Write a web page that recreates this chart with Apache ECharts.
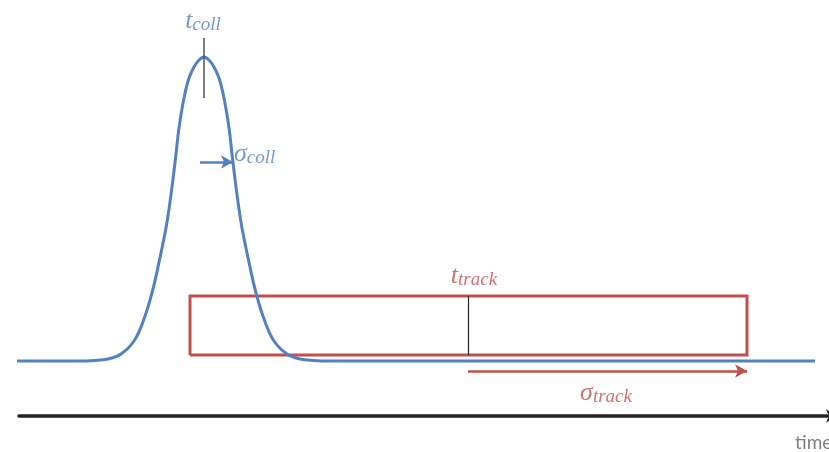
<!DOCTYPE html>
<html>
<head>
<meta charset="utf-8">
<script src="https://cdn.jsdelivr.net/npm/echarts@6/dist/echarts.min.js"></script>
<style>
  html, body { margin: 0; padding: 0; background: #fff; }
  #chart { width: 829px; height: 452px; }
</style>
</head>
<body>
<div id="chart"></div>
<script>
// collision time distribution
let curveTime  = [12, 79, 94, 108, 121, 134, 144, 153, 158, 166, 170, 173, 176, 179, 184, 189, 194, 199,
                  204, 209, 214, 219, 224, 229, 232, 235, 238, 242, 250, 255, 264, 274, 287, 300, 314, 329, 815];
let curveValue = [0, 0, 0.5, 2, 7, 20, 42, 72, 94, 133, 159, 182, 207, 233, 263, 283, 294, 301,
                  304, 301, 294, 283, 263, 233, 207, 182, 159, 133, 94, 72, 42, 20, 7, 2, 0.5, 0, 0];

// track time window
let trackTime  = [190, 190, 747, 747, 190];
let trackValue = [6, 65, 65, 6, 6];

// markers: t_coll tick, t_track tick
let tickTime = [204, 468];
let tickFrom = [263, 6];
let tickTo   = [323, 65];

// sigma arrows
let sigmaFrom  = [200, 468];
let sigmaTo    = [233, 747];
let sigmaLevel = [199, -10];

// labels
let labelMain  = ['t', 'σ', 't', 'σ'];
let labelSub   = ['coll', 'coll', 'track', 'track'];
let labelTime  = [203, 234, 474, 606];
let labelValue = [341, 208, 86, -31];

let blue = '#5580c0';
let red = '#c0504d';
let labelColor = [blue, blue, red, red];
let labelAlign = ['center', 'left', 'center', 'center'];

let myChart = echarts.init(document.getElementById('chart'));

let serif = "'Liberation Serif', 'DejaVu Serif', serif";

let option = {
    animation: false,
    grid: { left: 19, right: 0, top: 0, bottom: 36, containLabel: false, outerBoundsMode: 'none' },
    xAxis: {
        type: 'value',
        min: 19,
        max: 829,
        name: 'time',
        nameLocation: 'end',
        nameGap: -34,
        nameTextStyle: {
            color: '#7f7f7f',
            fontFamily: 'Lato',
            fontSize: 19,
            align: 'left',
            verticalAlign: 'top',
            padding: [17, 0, 0, 0]
        },
        axisLine: {
            show: true,
            onZero: false,
            symbol: ['none', 'arrow'],
            symbolSize: [10, 12],
            symbolOffset: [0, 9],
            lineStyle: { color: '#222', width: 3.5 }
        },
        axisTick: { show: false },
        axisLabel: { show: false },
        splitLine: { show: false }
    },
    yAxis: {
        type: 'value',
        min: -55,
        max: 361,
        show: false
    },
    series: [
        {
            name: 'collision',
            type: 'line',
            clip: false,
            smooth: 0.4,
            showSymbol: false,
            lineStyle: { color: blue, width: 3 },
            data: curveTime.map(function (t, i) { return [t, curveValue[i]]; }),
            z: 3
        },
        {
            name: 'track',
            type: 'line',
            clip: false,
            showSymbol: false,
            lineStyle: { color: red, width: 3, join: 'miter' },
            data: trackTime.map(function (t, i) { return [t, trackValue[i]]; }),
            z: 2,
            markLine: {
                silent: true,
                symbolSize: [10, 12],
                label: { show: false },
                data: [
                    [
                        { coord: [tickTime[0], tickFrom[0]], symbol: 'none', lineStyle: { color: '#555', width: 1.5, type: 'solid' } },
                        { coord: [tickTime[0], tickTo[0]], symbol: 'none' }
                    ],
                    [
                        { coord: [tickTime[1], tickFrom[1]], symbol: 'none', lineStyle: { color: '#222', width: 1.2, type: 'solid' } },
                        { coord: [tickTime[1], tickTo[1]], symbol: 'none' }
                    ],
                    [
                        { coord: [sigmaFrom[0], sigmaLevel[0]], symbol: 'none', lineStyle: { color: blue, width: 2.5, type: 'solid' } },
                        { coord: [sigmaTo[0], sigmaLevel[0]], symbol: 'arrow' }
                    ],
                    [
                        { coord: [sigmaFrom[1], sigmaLevel[1]], symbol: 'none', lineStyle: { color: red, width: 2.5, type: 'solid' } },
                        { coord: [sigmaTo[1], sigmaLevel[1]], symbol: 'arrow' }
                    ]
                ]
            }
        },
        {
            name: 'labels',
            type: 'scatter',
            symbolSize: 0,
            silent: true,
            data: labelTime.map(function (t, i) {
                return {
                    value: [t, labelValue[i]],
                    label: {
                        show: true,
                        position: 'inside',
                        align: labelAlign[i],
                        verticalAlign: 'middle',
                        formatter: '{m|' + labelMain[i] + '}{s|' + labelSub[i] + '}',
                        rich: {
                            m: {
                                color: labelColor[i],
                                fontFamily: serif,
                                fontStyle: 'italic',
                                fontSize: 26,
                                lineHeight: 28,
                                verticalAlign: 'bottom'
                            },
                            s: {
                                color: labelColor[i],
                                fontFamily: serif,
                                fontStyle: 'italic',
                                fontSize: 19,
                                lineHeight: 22,
                                verticalAlign: 'bottom'
                            }
                        }
                    }
                };
            })
        }
    ]
};

myChart.setOption(option);
</script>
</body>
</html>
